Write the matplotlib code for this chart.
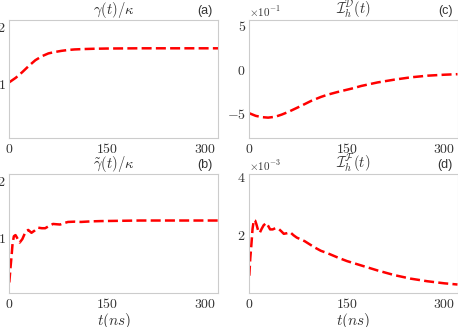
import matplotlib
matplotlib.use("Agg")

import matplotlib.pyplot as plt

plt.rcParams["mathtext.fontset"] = "cm"

# ── Data ───────────────────────────────────────────────────────────────────
t_a = [0, 10, 20, 30, 40, 50, 60, 70, 80, 90, 100, 115, 130, 150, 200, 250, 320]
gamma_a = [1.02, 1.10, 1.20, 1.31, 1.41, 1.48, 1.53, 1.555, 1.575, 1.59,
           1.60, 1.607, 1.612, 1.616, 1.62, 1.62, 1.62]

t_b = [0, 2, 3.6, 5, 7, 9.5, 12, 16, 20, 25, 29, 34, 39, 44, 50, 55, 61, 67,
       72, 78, 84, 90, 100, 110, 125, 140, 170, 200, 250, 320]
gamma_b = [0.22, 0.50, 0.70, 0.90, 1.03, 1.05, 1.00, 0.92, 0.98, 1.11, 1.14,
           1.09, 1.13, 1.18, 1.17, 1.17, 1.21, 1.245, 1.24, 1.235, 1.26, 1.28,
           1.285, 1.28, 1.29, 1.295, 1.30, 1.305, 1.305, 1.305]

t_c = [0, 10, 20, 29, 40, 50, 60, 70, 80, 95, 110, 120, 135, 146, 160, 172,
       197, 223, 248, 274, 300, 320]
info_c = [-0.50, -0.53, -0.545, -0.55, -0.54, -0.515, -0.485, -0.45, -0.415,
          -0.36, -0.315, -0.29, -0.26, -0.24, -0.215, -0.19, -0.15, -0.118,
          -0.092, -0.073, -0.062, -0.056]

t_d = [0, 1.5, 3, 5, 7, 9, 11, 13.5, 16, 19, 22, 26, 29, 32, 36, 40, 45, 49,
       53, 58, 63, 68, 73, 78, 85, 90, 100, 110, 120, 136, 150, 172, 197, 223,
       248, 274, 300, 320]
info_d = [0.6, 1.2, 1.6, 2.2, 2.5, 2.48, 2.35, 2.15, 2.06, 2.2, 2.32, 2.4, 2.3,
          2.18, 2.18, 2.22, 2.2, 2.12, 2.03, 2.05, 2.08, 1.98, 1.9, 1.85, 1.78,
          1.71, 1.57, 1.45, 1.37, 1.22, 1.1, 0.95, 0.78, 0.62, 0.5, 0.41, 0.34,
          0.3]
info_d = [v * 1e-3 for v in info_d]

x_ticks = [0, 150, 300]

TXT = "#333333"
SPINE = "#cccccc"
RED = "#ff0000"

fig = plt.figure(figsize=(4.58, 3.27), dpi=100)

W, H = 458, 327
def box(l, t, r, b):
    return [l / W, 1 - b / H, (r - l) / W, (b - t) / H]

ax_a = fig.add_axes(box(9.3, 20, 218, 138.3))
ax_c = fig.add_axes(box(249.3, 20, 457.5, 138.3))
ax_b = fig.add_axes(box(9.3, 174, 218, 293.3))
ax_d = fig.add_axes(box(249.3, 174, 457.5, 293.3))

panels = [
    (ax_a, t_a, gamma_a, 1, r"$\gamma(t)/\kappa$", "(a)", (0.03, 2.12), [1, 2], None),
    (ax_b, t_b, gamma_b, 1, r"$\tilde{\gamma}(t)/\kappa$", "(b)", (0.03, 2.12), [1, 2], None),
    (ax_c, t_c, info_c, 1e-1, r"$\mathcal{I}_h^{\mathcal{D}}(t)$", "(c)", (-7.85, 5.6), [-5, 0, 5], r"$\times10^{-1}$"),
    (ax_d, t_d, info_d, 1e-3, r"$\mathcal{I}_h^{\mathcal{F}}(t)$", "(d)", (0.0, 4.07), [2, 4], r"$\times10^{-3}$"),
]

for ax, t, y, scale, title, tag, ylim, yt, offset in panels:
    ax.plot(t, [v / scale for v in y], color=RED, linewidth=1.8,
            dashes=(4, 1.7), solid_capstyle="butt")
    ax.set_xlim(0, 320)
    ax.set_ylim(*ylim)
    ax.set_xticks(x_ticks)
    ax.set_xticklabels([f"${v}$" for v in x_ticks])
    ax.set_yticks(yt)
    ax.set_yticklabels([f"${v}$" for v in yt])
    ax.tick_params(length=0, pad=2.5, labelsize=10, colors=TXT)
    for s in ax.spines.values():
        s.set_color(SPINE)
        s.set_linewidth(0.8)
    ax.set_title(title, fontsize=10.5, color=TXT, pad=2.5)
    ax.text(0.975, 1.025, tag, transform=ax.transAxes, ha="right", va="bottom",
            fontsize=9, family="Liberation Sans", color=TXT)
    if offset:
        ax.text(0.0, 1.01, offset, transform=ax.transAxes, ha="left",
                va="bottom", fontsize=8, color=TXT)

for ax in (ax_b, ax_d):
    ax.set_xlabel(r"$t(ns)$", fontsize=11, color=TXT, labelpad=0)

fig.savefig("out.png", dpi=100)
